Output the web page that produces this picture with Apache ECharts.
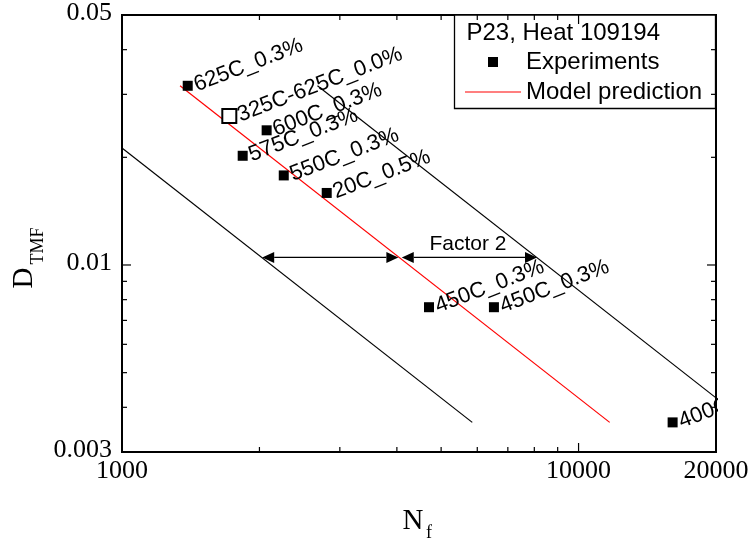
<!DOCTYPE html>
<html><head><meta charset="utf-8">
<script src="https://cdn.jsdelivr.net/npm/echarts@6/dist/echarts.min.js"></script>
<style>html,body{margin:0;padding:0;background:#fff}#c{width:753px;height:546px}</style>
</head><body><div id="c"></div>
<script>
// axis extents
const xMin = 1000, xMax = 20000, yMin = 0.003, yMax = 0.05;
// experiments (filled squares)
const expNames = ['625C_0.3%', '600C_0.3%', '575C_0.3%', '550C_0.3%', '20C_0.5%', '450C_0.3%', '450C_0.3%', '400C_0.3%'];
const expN = [1393, 2074, 1838, 2261, 2808, 4704, 6526, 16070];
const expD = [0.0317, 0.0238, 0.0202, 0.0178, 0.0159, 0.00762, 0.00762, 0.00363];
// open square
const openNames = ['325C-625C_0.0%'];
const openN = [1718];
const openD = [0.0261];
// model prediction and factor-2 bounds
const modelN = [1340, 11700];
const modelD = [0.0317, 0.00363];
const lowerN = [1000, 5850];
const lowerD = [0.02125, 0.00363];
const upperN = [2680, 20000];
const upperD = [0.0317, 0.00425];
// factor 2 arrows
const arrowStartN = [2028, 4100];
const arrowEndN = [4030, 8110];
const arrowD = [0.0105, 0.0105];
const factorText = ['Factor 2'];
const factorN = [5726];
const factorD = [0.01145];
// ticks and labels
const xTickMinor = [2000, 3000, 4000, 5000, 6000, 7000, 8000, 9000];
const xTickMajor = [10000];
const yTickMinor = [0.004, 0.005, 0.006, 0.007, 0.008, 0.009, 0.02, 0.03, 0.04];
const yTickMajor = [0.01];
const xLabels = ['1000', '10000', '20000'];
const yLabels = ['0.003', '0.01', '0.05'];

const chart = echarts.init(document.getElementById('c'), null, {renderer: 'canvas'});

const tickData = [];
xTickMinor.forEach(v => tickData.push([v, yMin, 0, 5]));
xTickMajor.forEach(v => tickData.push([v, yMin, 0, 9]));
yTickMinor.forEach(v => tickData.push([xMin, v, 1, 5]));
yTickMajor.forEach(v => tickData.push([xMin, v, 1, 9]));

const labelData = [];
xLabels.forEach(t => labelData.push([+t, yMin, 0]));
yLabels.forEach(t => labelData.push([xMin, +t, 1]));
const labelTexts = xLabels.concat(yLabels);

const arrowData = arrowStartN.map((n, i) => [n, arrowD[i], arrowEndN[i]]);

function lineEl(x1, y1, x2, y2, w) {
  return {type: 'line', shape: {x1, y1, x2, y2}, style: {stroke: '#000', lineWidth: w || 1.2}};
}

const serif = '"Liberation Serif", "Times New Roman", serif';
const sans = '"Liberation Sans", Arial, sans-serif';

chart.setOption({
  animation: false,
  backgroundColor: '#fff',
  grid: {left: 122, right: 37, top: 15, bottom: 94, show: true, borderColor: '#000', borderWidth: 2,
         backgroundColor: 'transparent', containLabel: false, outerBoundsMode: 'none'},
  xAxis: {type: 'log', logBase: 10, min: xMin, max: xMax,
          axisLine: {show: false}, axisTick: {show: false}, axisLabel: {show: false}, splitLine: {show: false}},
  yAxis: {type: 'log', logBase: 10, min: yMin, max: yMax,
          axisLine: {show: false}, axisTick: {show: false}, axisLabel: {show: false}, splitLine: {show: false}},
  legend: {
    data: [
      {name: 'Experiments', icon: 'path://M0,0H10V10H0Z'},
      {name: 'Model prediction', icon: 'path://M0,0H56V1.2H0Z'}
    ],
    orient: 'vertical', left: 465, top: 50, symbolKeepAspect: true,
    itemWidth: 56, itemHeight: 10, itemGap: 6, padding: 0, selectedMode: false, z: 6,
    textStyle: {fontSize: 24, fontFamily: sans, color: '#000', lineHeight: 24}
  },
  graphic: [
    {type: 'rect', z: 3, shape: {x: 454.5, y: 15, width: 261, height: 93.5},
     style: {fill: '#fff', stroke: '#000', lineWidth: 1.3}},
    {type: 'text', z: 7, x: 466.5, y: 33, style: {text: 'P23, Heat 109194', font: '24px ' + sans, fill: '#000', verticalAlign: 'middle'}},
    {type: 'text', z: 7, x: 413, y: 521, style: {text: 'N', font: '29px ' + serif, fill: '#000', align: 'center', verticalAlign: 'middle'}},
    {type: 'text', z: 7, x: 429, y: 533, style: {text: 'f', font: '18px ' + serif, fill: '#000', align: 'center', verticalAlign: 'middle'}},
    {type: 'text', z: 7, x: 24, y: 278, rotation: Math.PI / 2, style: {text: 'D', font: '29px ' + serif, fill: '#000', align: 'center', verticalAlign: 'middle'}},
    {type: 'text', z: 7, x: 38, y: 246, rotation: Math.PI / 2, style: {text: 'TMF', font: '18px ' + serif, fill: '#000', align: 'center', verticalAlign: 'middle'}},
    {type: 'rect', z: 100, shape: {x: 718, y: 385, width: 35, height: 60}, style: {fill: '#fff'}}
  ],
  series: [
    {name: 'lower', type: 'line', data: lowerN.map((n, i) => [n, lowerD[i]]), symbol: 'none',
     lineStyle: {color: '#000', width: 1.2}, itemStyle: {color: '#000'}, z: 2},
    {name: 'upper', type: 'line', data: upperN.map((n, i) => [n, upperD[i]]), symbol: 'none',
     lineStyle: {color: '#000', width: 1.2}, itemStyle: {color: '#000'}, z: 2},
    {name: 'Model prediction', type: 'line', data: modelN.map((n, i) => [n, modelD[i]]), symbol: 'none',
     lineStyle: {color: '#ff0000', width: 1.2}, itemStyle: {color: '#ff0000'}, z: 2},
    {name: 'Experiments', type: 'scatter', symbol: 'rect', symbolSize: 10,
     itemStyle: {color: '#000', opacity: 1}, z: 4,
     data: expN.map((n, i) => ({name: expNames[i], value: [n, expD[i]]})),
     label: {show: true, formatter: '{b}', position: 'right', distance: 2, rotate: 21,
             fontSize: 22, fontFamily: sans, color: '#000'}},
    {name: 'open', type: 'scatter', symbol: 'rect', symbolSize: 14,
     itemStyle: {color: '#fff', borderColor: '#000', borderWidth: 2, opacity: 1}, z: 4,
     data: openN.map((n, i) => ({name: openNames[i], value: [n, openD[i]]})),
     label: {show: true, formatter: '{b}', position: 'right', distance: 1, rotate: 21,
             fontSize: 22, fontFamily: sans, color: '#000'}},
    {name: 'arrows', type: 'custom', z: 3, data: arrowData,
     renderItem: function (params, api) {
       const a = api.coord([api.value(0), api.value(1)]);
       const b = api.coord([api.value(2), api.value(1)]);
       const L = 12, H = 5.5;
       return {type: 'group', children: [
         lineEl(a[0] + L, a[1], b[0] - L, b[1], 1.2),
         {type: 'polygon', shape: {points: [[a[0], a[1]], [a[0] + L, a[1] - H], [a[0] + L, a[1] + H]]}, style: {fill: '#000'}},
         {type: 'polygon', shape: {points: [[b[0], b[1]], [b[0] - L, b[1] - H], [b[0] - L, b[1] + H]]}, style: {fill: '#000'}}
       ]};
     }},
    {name: 'factor', type: 'custom', z: 3, data: factorN.map((n, i) => [n, factorD[i]]),
     renderItem: function (params, api) {
       const p = api.coord([api.value(0), api.value(1)]);
       return {type: 'text', x: p[0], y: p[1], style: {text: factorText[params.dataIndex], font: '21px ' + sans, fill: '#000', align: 'center', verticalAlign: 'middle'}};
     }},
    {name: 'ticks', type: 'custom', z: 3, data: tickData,
     renderItem: function (params, api) {
       const orient = api.value(2), len = api.value(3);
       if (orient === 0) {
         const b = api.coord([api.value(0), yMin]), t = api.coord([api.value(0), yMax]);
         return {type: 'group', children: [lineEl(b[0], b[1], b[0], b[1] - len), lineEl(t[0], t[1], t[0], t[1] + len)]};
       }
       const l = api.coord([xMin, api.value(1)]), r = api.coord([xMax, api.value(1)]);
       return {type: 'group', children: [lineEl(l[0], l[1], l[0] + len, l[1]), lineEl(r[0], r[1], r[0] - len, r[1])]};
     }},
    {name: 'ticklabels', type: 'custom', z: 3, data: labelData,
     renderItem: function (params, api) {
       const p = api.coord([api.value(0), api.value(1)]);
       const txt = labelTexts[params.dataIndex];
       if (api.value(2) === 0) {
         return {type: 'text', x: p[0], y: p[1] + 19, style: {text: txt, font: '26px ' + serif, fill: '#000', align: 'center', verticalAlign: 'middle'}};
       }
       return {type: 'text', x: p[0] - 10, y: p[1] - 1.5, style: {text: txt, font: '26px ' + serif, fill: '#000', align: 'right', verticalAlign: 'middle'}};
     }}
  ]
});
</script>
</body></html>
